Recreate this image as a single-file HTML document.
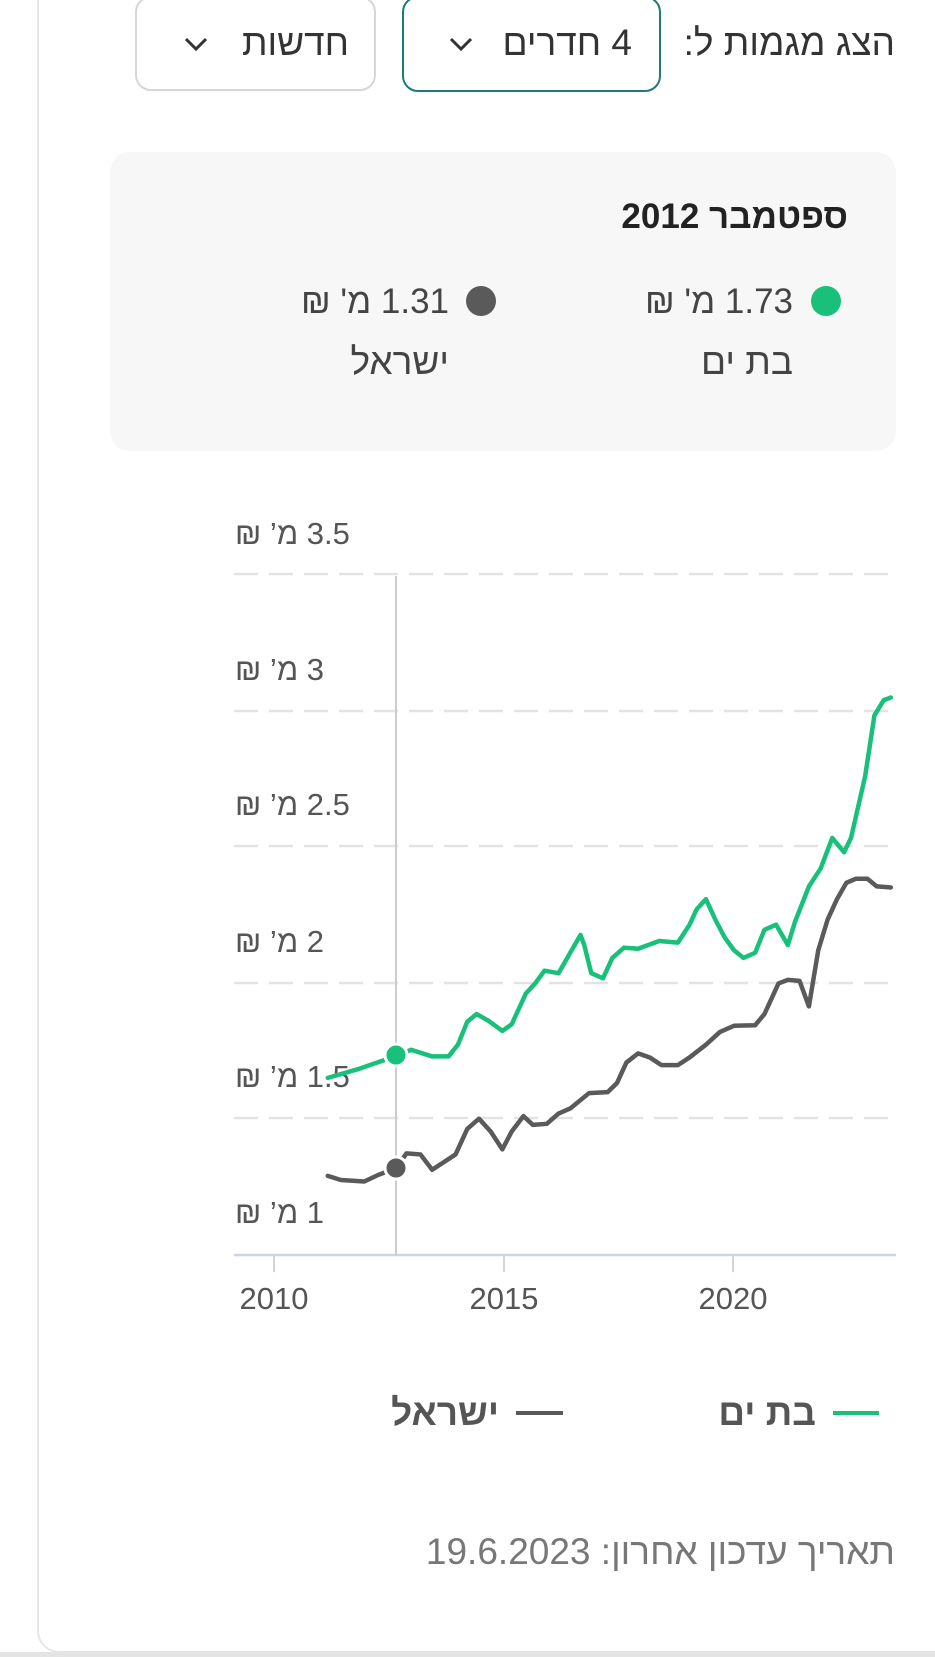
<!DOCTYPE html>
<html><head><meta charset="utf-8"><style>
body{margin:0;width:935px;height:1657px;background:#fff;position:relative;overflow:hidden;font-family:"Liberation Sans","Noto Sans CJK SC",sans-serif;}
.a{position:absolute;white-space:nowrap;line-height:1;}
.r{direction:rtl;text-align:right;}
</style></head><body>
<div class="a" style="left:37px;top:-20px;width:950px;height:1671px;border-left:2px solid #e6e6e6;border-bottom:2px solid #e6e6e6;border-bottom-left-radius:22px;"></div>
<div class="a" style="left:0;top:1652px;width:935px;height:5px;background:#e4e4e4;"></div>

<div class="a r" style="right:40px;top:24px;font-size:37px;color:#333;">הצג מגמות ל:</div>
<div class="a" style="left:402px;top:-4px;width:259px;height:96px;border:2px solid #1f7a7a;border-radius:16px;box-sizing:border-box;"></div>
<div class="a r" style="right:303px;top:24px;font-size:37px;color:#333;">4 חדרים</div>
<svg class="a" style="left:448px;top:36px" width="26" height="18"><path d="M3 3 L13 13 L23 3" stroke="#333" stroke-width="3" fill="none"/></svg>
<div class="a" style="left:135px;top:-4px;width:241px;height:95px;border:2px solid #d6d6d6;border-radius:16px;box-sizing:border-box;"></div>
<div class="a r" style="right:586px;top:24px;font-size:37px;color:#333;">חדשות</div>
<svg class="a" style="left:183px;top:36px" width="26" height="18"><path d="M3 3 L13 13 L23 3" stroke="#333" stroke-width="3" fill="none"/></svg>

<div class="a" style="left:110px;top:152px;width:786px;height:299px;background:#f7f7f7;border-radius:20px;"></div>
<div class="a r" style="right:87px;top:199px;font-size:35px;font-weight:bold;color:#222;">ספטמבר 2012</div>
<div class="a" style="left:811px;top:286px;width:30px;height:30px;border-radius:50%;background:#18c07a;"></div>
<div class="a r" style="right:142px;top:284px;font-size:35px;color:#444;">1.73 מ' ₪</div>
<div class="a r" style="right:142px;top:343px;font-size:37px;color:#444;">בת ים</div>
<div class="a" style="left:466px;top:286px;width:30px;height:30px;border-radius:50%;background:#5a5a5a;"></div>
<div class="a r" style="right:486px;top:284px;font-size:35px;color:#444;">1.31 מ' ₪</div>
<div class="a r" style="right:486px;top:343px;font-size:37px;color:#444;">ישראל</div>

<svg class="a" style="left:0;top:0" width="935" height="1657">
<g stroke="#e3e3e3" stroke-width="2.5" stroke-dasharray="24 11">
<line x1="234" y1="574" x2="896" y2="574"/><line x1="234" y1="711" x2="896" y2="711"/><line x1="234" y1="846" x2="896" y2="846"/><line x1="234" y1="983" x2="896" y2="983"/><line x1="234" y1="1118" x2="896" y2="1118"/>
</g>
<line x1="234" y1="1255" x2="896" y2="1255" stroke="#cdd5e0" stroke-width="2.5"/>
<g stroke="#cdd5e0" stroke-width="2"><line x1="274" y1="1256" x2="274" y2="1272"/><line x1="504" y1="1256" x2="504" y2="1272"/><line x1="733" y1="1256" x2="733" y2="1272"/></g>
<line x1="396" y1="576" x2="396" y2="1255" stroke="#cccccc" stroke-width="2"/>
<g font-size="31" fill="#555" font-family="Liberation Sans, sans-serif" text-anchor="middle">
<text x="274" y="1309">2010</text><text x="504" y="1309">2015</text><text x="733" y="1309">2020</text></g>
<g font-size="31" fill="#555" font-family="Liberation Sans, sans-serif" direction="rtl" text-anchor="end">
<text x="235" y="544">3.5 מ’ ₪</text><text x="235" y="680">3 מ’ ₪</text><text x="235" y="815">2.5 מ’ ₪</text><text x="235" y="952">2 מ’ ₪</text><text x="235" y="1087">1.5 מ’ ₪</text><text x="235" y="1223">1 מ’ ₪</text></g>
<g transform="translate(200.5,501) scale(0.468,0.5105)" fill="none" stroke-linejoin="round" stroke-linecap="round">
<polyline vector-effect="non-scaling-stroke" stroke-width="4.5" stroke="#18c07a" points="272,1130 340,1112 418,1087 450,1075 495,1088 530,1088 550,1065 570,1020 590,1005 615,1018 645,1038 665,1025 695,965 715,945 735,920 765,925 790,885 812,850 820,870 835,925 860,935 880,895 905,875 935,877 980,862 1020,865 1045,830 1060,800 1080,780 1100,820 1120,855 1140,880 1160,895 1185,885 1205,840 1230,830 1255,870 1270,825 1300,755 1325,720 1350,660 1375,688 1390,660 1420,540 1440,420 1460,390 1475,385"/>
<polyline vector-effect="non-scaling-stroke" stroke-width="4.5" stroke="#5a5a5a" points="272,1322 300,1330 350,1333 380,1320 418,1307 440,1278 470,1280 495,1310 520,1295 545,1280 570,1230 595,1210 620,1235 645,1270 665,1235 690,1205 710,1222 740,1220 765,1200 790,1190 830,1160 870,1158 890,1140 910,1100 935,1082 960,1090 985,1105 1020,1105 1045,1090 1080,1065 1110,1040 1140,1028 1185,1027 1205,1005 1235,945 1255,938 1280,940 1300,990 1320,880 1340,820 1360,780 1380,748 1400,740 1425,740 1445,755 1475,757"/>
</g>
<circle cx="396" cy="1055" r="11" fill="#18c07a" stroke="#fff" stroke-width="3"/>
<circle cx="396" cy="1168" r="11" fill="#5a5a5a" stroke="#fff" stroke-width="3"/>
<line x1="833" y1="1413" x2="879" y2="1413" stroke="#18c07a" stroke-width="4"/>
<line x1="516" y1="1413" x2="563" y2="1413" stroke="#5a5a5a" stroke-width="4"/>
</svg>

<div class="a r" style="right:119px;top:1394px;font-size:37px;font-weight:bold;color:#555;">בת ים</div>
<div class="a r" style="right:436px;top:1394px;font-size:37px;font-weight:bold;color:#555;">ישראל</div>
<div class="a r" style="right:40px;top:1533px;font-size:37px;color:#777;">תאריך עדכון אחרון: 19.6.2023</div>
</body></html>
